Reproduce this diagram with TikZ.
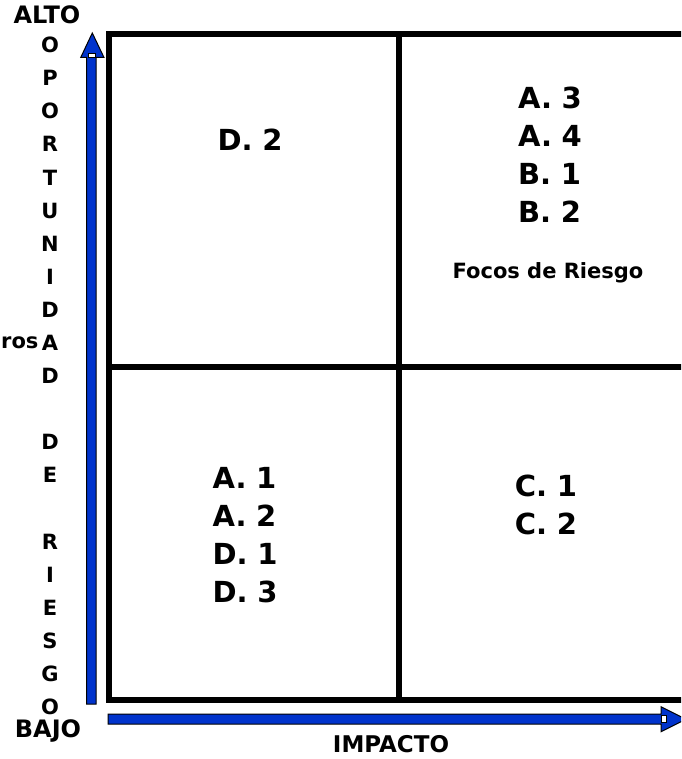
\documentclass[tikz,border=0pt]{standalone}
\usepackage{fontspec}
\setmainfont{DejaVu Sans}
\definecolor{axisblue}{RGB}{0,51,204}
\tikzset{
  gridline/.style={line width=6pt, black},
  arrowbody/.style={fill=axisblue, draw=black, line width=1pt, line join=miter},
  joint/.style={fill=white, draw=black, line width=0.8pt},
  celltext/.style={font=\fontsize{29}{38}\selectfont\bfseries, align=left, inner sep=0pt},
  smalltext/.style={font=\fontsize{21}{22}\selectfont\bfseries, inner sep=0pt},
  axisletter/.style={font=\fontsize{21}{22}\selectfont\bfseries, inner sep=0pt},
  endlabel/.style={font=\fontsize{24}{25}\selectfont\bfseries, inner sep=0pt}
}
\begin{document}
\begin{tikzpicture}[x=1pt, y=-1pt]
\useasboundingbox (0,0) rectangle (681,759);
\clip (0,0) rectangle (681,759);
% grid
\draw[gridline] (690,34) -- (109,34) -- (109,699.5) -- (690,699.5);
\draw[gridline] (398.5,34) -- (398.5,699.5);
\draw[gridline] (109,367) -- (690,367);
% vertical arrow
\draw[arrowbody] (86.5,704) -- (86.5,57.5) -- (80.7,57.5) -- (92.3,33) -- (104,57.5) -- (96,57.5) -- (96,704) -- cycle;
\draw[joint] (88.3,53.3) rectangle (95,57);
% horizontal arrow
\draw[arrowbody] (108,714) -- (661,714) -- (661,706.7) -- (686,719.2) -- (661,731.7) -- (661,724) -- (108,724) -- cycle;
\draw[joint] (661.5,715.5) rectangle (666.5,722.5);
% end labels
\node[endlabel] (alto) at (47,15) {ALTO};
\node[endlabel] (bajo) at (48,731) {BAJO};
\node[smalltext, font=\fontsize{23}{24}\selectfont\bfseries] (impacto) at (391,744) {IMPACTO};
% vertical word
\foreach \l [count=\i from 0] in {O,P,O,R,T,U,N,I,D,A,D,{},D,E,{},R,I,E,S,G,O}{
  \node[axisletter] (v\i) at (50,{45+33.1*\i}) {\l};
}
\node[axisletter, anchor=west] (ros) at (1,343) {ros};
% cells
\node[celltext] (d2) at (250,140) {D.\,\,2};
\node[celltext] (ur) at (550,154.5) {A.\,\,3\\A.\,\,4\\B.\,\,1\\B.\,\,2};
\node[smalltext] (focos) at (548,273) {Focos de Riesgo};
\node[celltext] (ll) at (245,535) {A.\,\,1\\A.\,\,2\\D.\,\,1\\D.\,\,3};
\node[celltext] (lr) at (546,505) {C.\,\,1\\C.\,\,2};
\end{tikzpicture}
\end{document}
